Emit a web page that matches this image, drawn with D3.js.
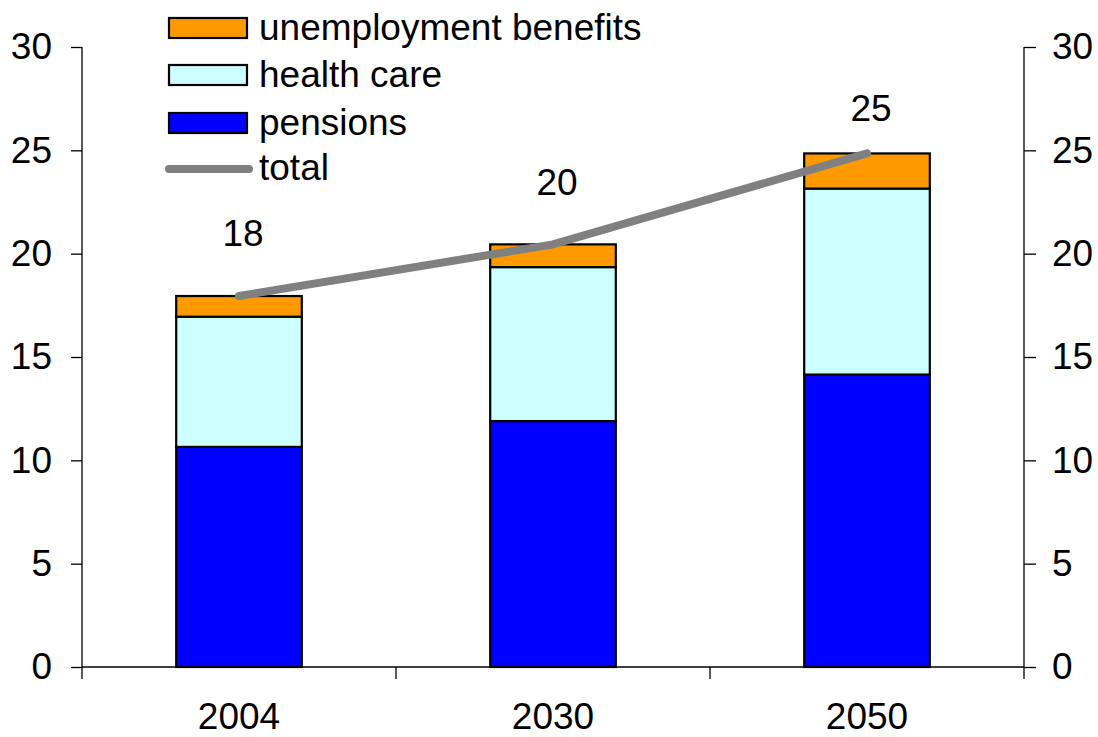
<!DOCTYPE html>
<html>
<head>
<meta charset="utf-8">
<script src="https://cdn.jsdelivr.net/npm/d3@7"></script>
<style>
  body { margin: 0; background: #fff; }
  text { font-family: Arial, "Liberation Sans", sans-serif; fill: #000; }
</style>
</head>
<body>
<div id="graph"></div>
<script>
const w = 1098;
const h = 737;
const fontSize = '37px';

// data
const years = ['2004', '2030', '2050'];
const pensions = [10.65, 11.9, 14.15];
const healthCare = [6.3, 7.45, 9.0];
const unemployment = [1.0, 1.1, 1.7];
const total = [17.95, 20.45, 24.85];
const totalLabels = ['18', '20', '25'];
const yTicks = [0, 5, 10, 15, 20, 25, 30];

const seriesNames = ['pensions', 'health care', 'unemployment benefits'];
const seriesColors = ['#0000FF', '#CCFFFF', '#FF9900'];

const plotLeft = 82, plotRight = 1024, plotTop = 47, plotBottom = 667;

const xScale = d3.scaleBand()
                 .domain(years)
                 .range([plotLeft, plotRight])
                 .paddingInner(0)
                 .paddingOuter(0);

const yScale = d3.scaleLinear()
                 .domain([0, 30])
                 .range([plotBottom, plotTop]);

const svg = d3.select('#graph')
              .append('svg')
              .attr('width', w)
              .attr('height', h);

// stacked bars
const rows = years.map((y, i) => ({
  year: y,
  'pensions': pensions[i],
  'health care': healthCare[i],
  'unemployment benefits': unemployment[i]
}));
const stacked = d3.stack().keys(seriesNames)(rows);
const barW = xScale.bandwidth() * 0.4;

stacked.forEach(function (layer, k) {
  svg.append('g')
     .selectAll('rect')
     .data(layer)
     .enter()
     .append('rect')
     .attr('x', (d) => xScale(d.data.year) + (xScale.bandwidth() - barW) / 2)
     .attr('y', (d) => yScale(d[1]))
     .attr('width', barW)
     .attr('height', (d) => yScale(d[0]) - yScale(d[1]))
     .attr('fill', seriesColors[k])
     .attr('stroke', '#000')
     .attr('stroke-width', 2.2);
});

// axes
const axisLeft = svg.append('g')
   .attr('transform', 'translate(' + plotLeft + ',0)')
   .call(d3.axisLeft(yScale).tickValues(yTicks).tickSize(11).tickPadding(19));

const axisRight = svg.append('g')
   .attr('transform', 'translate(' + plotRight + ',0)')
   .call(d3.axisRight(yScale).tickValues(yTicks).tickSize(12).tickPadding(16));

const axisBottom = svg.append('g')
   .attr('transform', 'translate(0,' + plotBottom + ')')
   .call(d3.axisBottom(xScale).tickSize(0).tickPadding(36));

[axisLeft, axisRight, axisBottom].forEach(function (g) {
  g.select('.domain').remove();
  g.selectAll('text').style('font-size', fontSize).style('font-family', 'Arial, "Liberation Sans", sans-serif');
  g.selectAll('line').attr('stroke', '#000').attr('stroke-width', 1.3);
});

// axis lines
svg.append('line')
   .attr('x1', plotLeft).attr('x2', plotLeft)
   .attr('y1', yScale(30)).attr('y2', plotBottom + 12)
   .attr('stroke', '#000').attr('stroke-width', 1.3);
svg.append('line')
   .attr('x1', plotRight).attr('x2', plotRight)
   .attr('y1', yScale(30)).attr('y2', plotBottom + 12)
   .attr('stroke', '#000').attr('stroke-width', 1.3);
svg.append('line')
   .attr('x1', plotLeft).attr('x2', plotRight)
   .attr('y1', plotBottom).attr('y2', plotBottom)
   .attr('stroke', '#000').attr('stroke-width', 1.3);

// category boundary ticks
svg.selectAll('.catTick')
   .data(years.slice(1))
   .enter()
   .append('line')
   .attr('x1', (d) => xScale(d)).attr('x2', (d) => xScale(d))
   .attr('y1', plotBottom).attr('y2', plotBottom + 12)
   .attr('stroke', '#000').attr('stroke-width', 1.3);

// total line
svg.append('path')
   .datum(total)
   .attr('fill', 'none')
   .attr('stroke', '#808080')
   .attr('stroke-width', 8)
   .attr('stroke-linecap', 'round')
   .attr('d', d3.line()
                .x((d, i) => xScale(years[i]) + xScale.bandwidth() / 2)
                .y((d) => yScale(d)));

// value labels
const labelLift = [50, 49, 32];
svg.selectAll('.valLabel')
   .data(total)
   .enter()
   .append('text')
   .attr('x', (d, i) => xScale(years[i]) + xScale.bandwidth() / 2 + 4)
   .attr('y', (d, i) => yScale(d) - labelLift[i])
   .attr('text-anchor', 'middle')
   .style('font-size', fontSize)
   .text((d, i) => totalLabels[i]);

// legend
const legendItems = [
  { name: 'unemployment benefits', color: '#FF9900', y: 28 },
  { name: 'health care', color: '#CCFFFF', y: 75 },
  { name: 'pensions', color: '#0000FF', y: 123 }
];
legendItems.forEach(function (e) {
  svg.append('rect')
     .attr('x', 169).attr('y', e.y - 10)
     .attr('width', 78).attr('height', 20)
     .attr('fill', e.color)
     .attr('stroke', '#000').attr('stroke-width', 2.2);
  svg.append('text')
     .attr('x', 259).attr('y', e.y + 12)
     .style('font-size', fontSize)
     .text(e.name);
});
svg.append('line')
   .attr('x1', 169).attr('x2', 249)
   .attr('y1', 169).attr('y2', 169)
   .attr('stroke', '#808080').attr('stroke-width', 8)
   .attr('stroke-linecap', 'round');
svg.append('text')
   .attr('x', 259).attr('y', 180)
   .style('font-size', fontSize)
   .text('total');
</script>
</body>
</html>
